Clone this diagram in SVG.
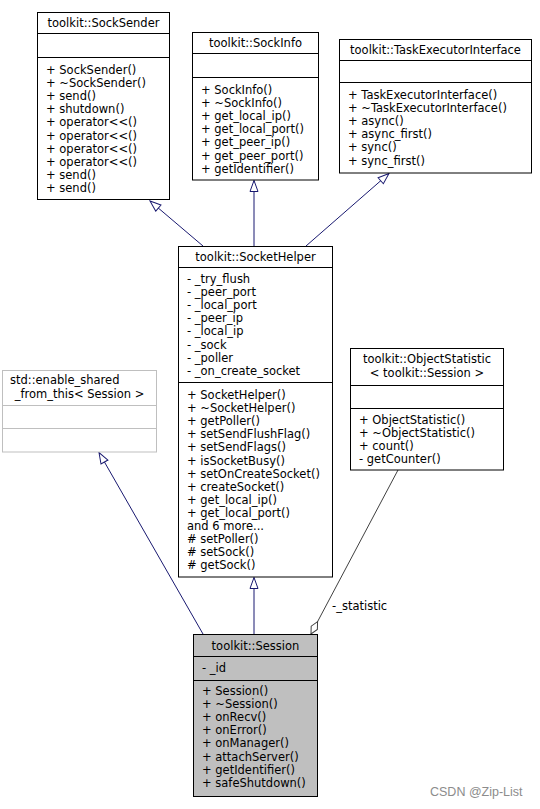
<svg xmlns="http://www.w3.org/2000/svg" width="540" height="809" viewBox="0 0 540 809">
<style>
text{font-family:"DejaVu Sans","Noto Sans",sans-serif;font-size:11.5px;fill:#000}
.t{text-anchor:middle}
.box{fill:#fff;stroke:#000;stroke-width:1}
.gbox{fill:#fff;stroke:#bfbfbf;stroke-width:1}
.cur{fill:#bfbfbf;stroke:#000;stroke-width:1}
.div{stroke:#000;stroke-width:1}
.gdiv{stroke:#bfbfbf;stroke-width:1}
.inh{fill:none;stroke:#191970;stroke-width:1}
.use{fill:none;stroke:#404040;stroke-width:1}
.wm{font-family:"Liberation Sans",Arial,sans-serif;font-size:12.5px;fill:#8c8c8c}
</style>
<defs>
<marker id="tri" markerUnits="userSpaceOnUse" markerWidth="14" markerHeight="12" refX="12" refY="5" orient="auto" viewBox="0 0 14 10">
<path d="M1,1 L12,5 L1,9 Z" fill="#fff" stroke="#191970" stroke-width="1"/>
</marker>
<marker id="dia" markerUnits="userSpaceOnUse" markerWidth="16" markerHeight="10" refX="15" refY="5" orient="auto" viewBox="0 0 16 10">
<path d="M1,5 L8,1.5 L15,5 L8,8.5 Z" fill="#fff" stroke="#404040" stroke-width="1"/>
</marker>
</defs>

<g id="connectors">
<line class="inh" x1="203" y1="246" x2="150" y2="201" marker-end="url(#tri)"/>
<line class="inh" x1="254" y1="246" x2="254" y2="180.5" marker-end="url(#tri)"/>
<line class="inh" x1="306" y1="246" x2="389" y2="173.5" marker-end="url(#tri)"/>
<line class="inh" x1="203" y1="634" x2="99" y2="452.5" marker-end="url(#tri)"/>
<line class="inh" x1="254" y1="634" x2="254" y2="577.5" marker-end="url(#tri)"/>
<line class="use" x1="398" y1="470" x2="311" y2="634" marker-end="url(#dia)"/>
<text x="332" y="610">-_statistic</text>
</g>

<g id="SockSender">
<rect class="box" x="37.5" y="12.5" width="132" height="187"/>
<line class="div" x1="37.5" y1="33.5" x2="169.5" y2="33.5"/>
<line class="div" x1="37.5" y1="57.5" x2="169.5" y2="57.5"/>
<text class="t" x="103.5" y="27">toolkit::SockSender</text>
<text x="46" y="74">+ SockSender()</text>
<text x="46" y="87.1">+ ~SockSender()</text>
<text x="46" y="100.2">+ send()</text>
<text x="46" y="113.3">+ shutdown()</text>
<text x="46" y="126.4">+ operator&lt;&lt;()</text>
<text x="46" y="139.5">+ operator&lt;&lt;()</text>
<text x="46" y="152.6">+ operator&lt;&lt;()</text>
<text x="46" y="165.7">+ operator&lt;&lt;()</text>
<text x="46" y="178.8">+ send()</text>
<text x="46" y="191.9">+ send()</text>
</g>

<g id="SockInfo">
<rect class="box" x="192.5" y="32.5" width="126" height="147.5"/>
<line class="div" x1="192.5" y1="53.5" x2="318.5" y2="53.5"/>
<line class="div" x1="192.5" y1="77.5" x2="318.5" y2="77.5"/>
<text class="t" x="255.5" y="47">toolkit::SockInfo</text>
<text x="201" y="94">+ SockInfo()</text>
<text x="201" y="107.1">+ ~SockInfo()</text>
<text x="201" y="120.2">+ get_local_ip()</text>
<text x="201" y="133.3">+ get_local_port()</text>
<text x="201" y="146.4">+ get_peer_ip()</text>
<text x="201" y="159.5">+ get_peer_port()</text>
<text x="201" y="172.6">+ getIdentifier()</text>
</g>

<g id="TaskExecutorInterface">
<rect class="box" x="339.5" y="39.5" width="192" height="133.5"/>
<line class="div" x1="339.5" y1="60.5" x2="531.5" y2="60.5"/>
<line class="div" x1="339.5" y1="82.5" x2="531.5" y2="82.5"/>
<text class="t" x="435.5" y="54">toolkit::TaskExecutorInterface</text>
<text x="348" y="99">+ TaskExecutorInterface()</text>
<text x="348" y="112.1">+ ~TaskExecutorInterface()</text>
<text x="348" y="125.2">+ async()</text>
<text x="348" y="138.3">+ async_first()</text>
<text x="348" y="151.4">+ sync()</text>
<text x="348" y="164.5">+ sync_first()</text>
</g>

<g id="SocketHelper">
<rect class="box" x="178.5" y="246.5" width="154" height="330.5"/>
<line class="div" x1="178.5" y1="267.5" x2="332.5" y2="267.5"/>
<line class="div" x1="178.5" y1="382.5" x2="332.5" y2="382.5"/>
<text class="t" x="255.5" y="261">toolkit::SocketHelper</text>
<text x="187" y="283">- _try_flush</text>
<text x="187" y="296.1">- _peer_port</text>
<text x="187" y="309.2">- _local_port</text>
<text x="187" y="322.3">- _peer_ip</text>
<text x="187" y="335.4">- _local_ip</text>
<text x="187" y="348.5">- _sock</text>
<text x="187" y="361.6">- _poller</text>
<text x="187" y="374.7">- _on_create_socket</text>
<text x="187" y="399">+ SocketHelper()</text>
<text x="187" y="412.1">+ ~SocketHelper()</text>
<text x="187" y="425.2">+ getPoller()</text>
<text x="187" y="438.3">+ setSendFlushFlag()</text>
<text x="187" y="451.4">+ setSendFlags()</text>
<text x="187" y="464.5">+ isSocketBusy()</text>
<text x="187" y="477.6">+ setOnCreateSocket()</text>
<text x="187" y="490.7">+ createSocket()</text>
<text x="187" y="503.8">+ get_local_ip()</text>
<text x="187" y="516.9">+ get_local_port()</text>
<text x="187" y="530">and 6 more...</text>
<text x="187" y="543.1"># setPoller()</text>
<text x="187" y="556.2"># setSock()</text>
<text x="187" y="569.3"># getSock()</text>
</g>

<g id="enable_shared_from_this">
<rect class="gbox" x="2.5" y="370.5" width="154" height="81.5"/>
<line class="gdiv" x1="2.5" y1="405.5" x2="156.5" y2="405.5"/>
<line class="gdiv" x1="2.5" y1="428.5" x2="156.5" y2="428.5"/>
<text x="10" y="384">std::enable_shared</text>
<text class="t" x="79.5" y="397.5">_from_this&lt; Session &gt;</text>
</g>

<g id="ObjectStatistic">
<rect class="box" x="350.5" y="348.5" width="153" height="121.5"/>
<line class="div" x1="350.5" y1="385.5" x2="503.5" y2="385.5"/>
<line class="div" x1="350.5" y1="408.5" x2="503.5" y2="408.5"/>
<text class="t" x="427" y="363">toolkit::ObjectStatistic</text>
<text class="t" x="427" y="377">&lt; toolkit::Session &gt;</text>
<text x="359" y="424">+ ObjectStatistic()</text>
<text x="359" y="437.1">+ ~ObjectStatistic()</text>
<text x="359" y="450.2">+ count()</text>
<text x="359" y="463.3">- getCounter()</text>
</g>

<g id="Session">
<rect class="cur" x="193.5" y="634.5" width="124" height="162"/>
<line class="div" x1="193.5" y1="656.5" x2="317.5" y2="656.5"/>
<line class="div" x1="193.5" y1="680.5" x2="317.5" y2="680.5"/>
<text class="t" x="255.5" y="650">toolkit::Session</text>
<text x="202" y="672">- _id</text>
<text x="202" y="695">+ Session()</text>
<text x="202" y="708.1">+ ~Session()</text>
<text x="202" y="721.2">+ onRecv()</text>
<text x="202" y="734.3">+ onError()</text>
<text x="202" y="747.4">+ onManager()</text>
<text x="202" y="760.5">+ attachServer()</text>
<text x="202" y="773.6">+ getIdentifier()</text>
<text x="202" y="786.7">+ safeShutdown()</text>
</g>

<text class="wm" x="430" y="796">CSDN @Zip-List</text>
</svg>
